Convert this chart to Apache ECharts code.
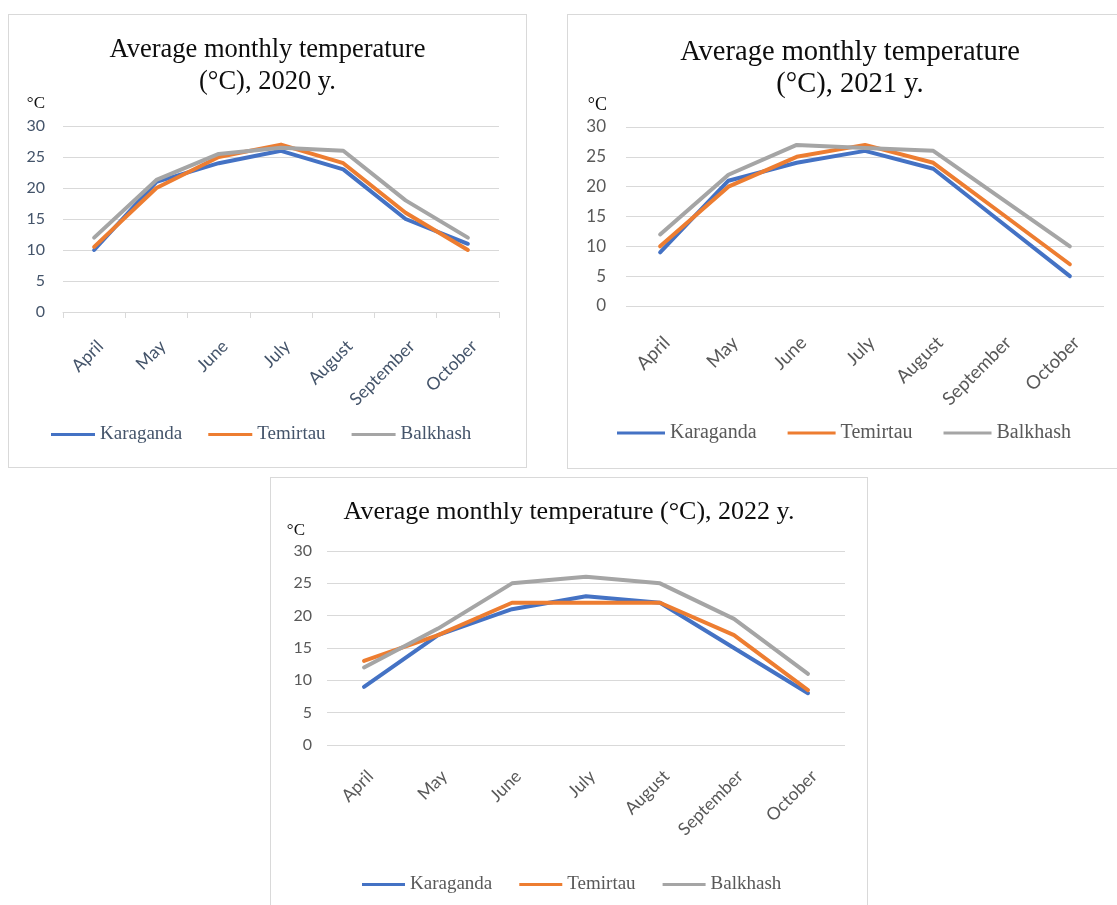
<!DOCTYPE html>
<html>
<head>
<meta charset="utf-8">
<title>Average monthly temperature</title>
<script src="https://cdn.jsdelivr.net/npm/echarts@6/dist/echarts.min.js"></script>
<style>
  html, body { margin: 0; padding: 0; background: #fff; width: 1117px; height: 905px; overflow: hidden; position: relative; }
  .panel { position: absolute; border: 1px solid #d9d9d9; background: #fff; box-sizing: border-box; }
</style>
</head>
<body>
<div id="c2020" class="panel" style="left:8px;top:14px;width:519px;height:454px"></div>
<div id="c2021" class="panel" style="left:567px;top:14px;width:566px;height:455px"></div>
<div id="c2022" class="panel" style="left:270px;top:477px;width:598px;height:440px"></div>
<script>
// Months shown on the category axis
const months = ['April', 'May', 'June', 'July', 'August', 'September', 'October'];
const cities = ['Karaganda', 'Temirtau', 'Balkhash'];
const cityColors = ['#4472C4', '#ED7D31', '#A5A5A5'];
const yTicks = { min: 0, max: 30, interval: 5 };

// Average monthly temperature, °C
const karaganda2020 = [10, 21, 24, 26, 23, 15, 11];
const temirtau2020  = [10.5, 20, 25, 27, 24, 16, 10];
const balkhash2020  = [12, 21.3, 25.5, 26.5, 26, 18, 12];

const karaganda2021 = [9, 21, 24, 26, 23, 14, 5];
const temirtau2021  = [10, 20, 25, 27, 24, 15.5, 7];
const balkhash2021  = [12, 22, 27, 26.5, 26, 18, 10];

const karaganda2022 = [9, 17, 21, 23, 22, 15, 8];
const temirtau2022  = [13, 17, 22, 22, 22, 17, 8.5];
const balkhash2022  = [12, 18, 25, 26, 25, 19.5, 11];

const SERIF = 'Liberation Serif';
const SANS = 'Lato';

function buildOption(p) {
  return {
    animation: false,
    title: {
      text: p.title,
      left: 'center',
      top: p.titleTop,
      textStyle: { fontFamily: SERIF, fontSize: p.titleSize, lineHeight: p.titleLine, fontWeight: 'normal', color: '#0d0d0d' }
    },
    legend: {
      data: cities,
      left: p.legendLeft,
      top: p.legendTop,
      icon: 'rect',
      itemWidth: p.legendIconW,
      itemHeight: 3,
      itemGap: p.legendGap,
      textStyle: { fontFamily: SERIF, fontSize: p.legendSize, color: p.textColor }
    },
    grid: { left: p.grid[0], top: p.grid[1], right: p.grid[2], bottom: p.grid[3], containLabel: false },
    xAxis: {
      type: 'category',
      data: months,
      boundaryGap: true,
      axisLine: { show: p.showAxisLine, lineStyle: { color: '#d9d9d9', width: 1 } },
      axisTick: { show: p.showAxisLine, length: 6, alignWithLabel: false, lineStyle: { color: '#d9d9d9' } },
      axisLabel: {
        rotate: 45,
        margin: p.xLabelMargin,
        verticalAlign: 'top',
        fontFamily: SANS,
        fontSize: p.xLabelSize,
        color: p.textColor
      }
    },
    yAxis: {
      type: 'value',
      min: yTicks.min,
      max: yTicks.max,
      interval: yTicks.interval,
      name: '°C',
      nameLocation: 'end',
      nameGap: p.unitGap,
      nameTextStyle: { fontFamily: SERIF, fontSize: p.unitSize, color: '#0d0d0d', align: 'right', padding: [0, p.unitShift, 0, 0] },
      axisLine: { show: false },
      axisTick: { show: false },
      splitLine: { lineStyle: { color: '#d9d9d9', width: 1 } },
      axisLabel: { margin: p.yLabelMargin, fontFamily: SANS, fontSize: p.labelSize, color: p.textColor }
    },
    series: p.values.map((vals, i) => ({
      name: cities[i],
      type: 'line',
      data: vals,
      showSymbol: false,
      symbol: 'none',
      color: cityColors[i],
      lineStyle: { width: 4, color: cityColors[i], cap: 'round', join: 'round' }
    }))
  };
}

const panels = [
  {
    id: 'c2020',
    title: 'Average monthly temperature\n(°C), 2020 y.',
    titleTop: 14, titleSize: 26.5, titleLine: 32,
    grid: [54, 111, 27, 155],
    showAxisLine: true,
    xLabelMargin: 25, xLabelSize: 17.5,
    yLabelMargin: 18,
    labelSize: 16,
    unitGap: 14, unitSize: 17, unitShift: 18,
    textColor: '#44546A',
    legendLeft: 37, legendTop: 405, legendIconW: 44, legendGap: 26, legendSize: 19,
    values: [karaganda2020, temirtau2020, balkhash2020]
  },
  {
    id: 'c2021',
    title: 'Average monthly temperature\n(°C), 2021 y.',
    titleTop: 17, titleSize: 28.5, titleLine: 32,
    grid: [58, 112, 28, 162],
    showAxisLine: false,
    xLabelMargin: 27, xLabelSize: 18.5,
    yLabelMargin: 20,
    labelSize: 17,
    unitGap: 13, unitSize: 18, unitShift: 19,
    textColor: '#595959',
    legendLeft: 44, legendTop: 403, legendIconW: 48, legendGap: 31, legendSize: 20,
    values: [karaganda2021, temirtau2021, balkhash2021]
  },
  {
    id: 'c2022',
    title: 'Average monthly temperature (°C), 2022 y.',
    titleTop: 13, titleSize: 26, titleLine: 32,
    grid: [56, 73, 22, 171],
    showAxisLine: false,
    xLabelMargin: 22, xLabelSize: 17.5,
    yLabelMargin: 15,
    labelSize: 16,
    unitGap: 12, unitSize: 17, unitShift: 22,
    textColor: '#595959',
    legendLeft: 86, legendTop: 392, legendIconW: 43, legendGap: 27, legendSize: 19,
    values: [karaganda2022, temirtau2022, balkhash2022]
  }
];

panels.forEach(p => {
  const chart = echarts.init(document.getElementById(p.id), null, { renderer: 'canvas' });
  chart.setOption(buildOption(p));
});
</script>
</body>
</html>
